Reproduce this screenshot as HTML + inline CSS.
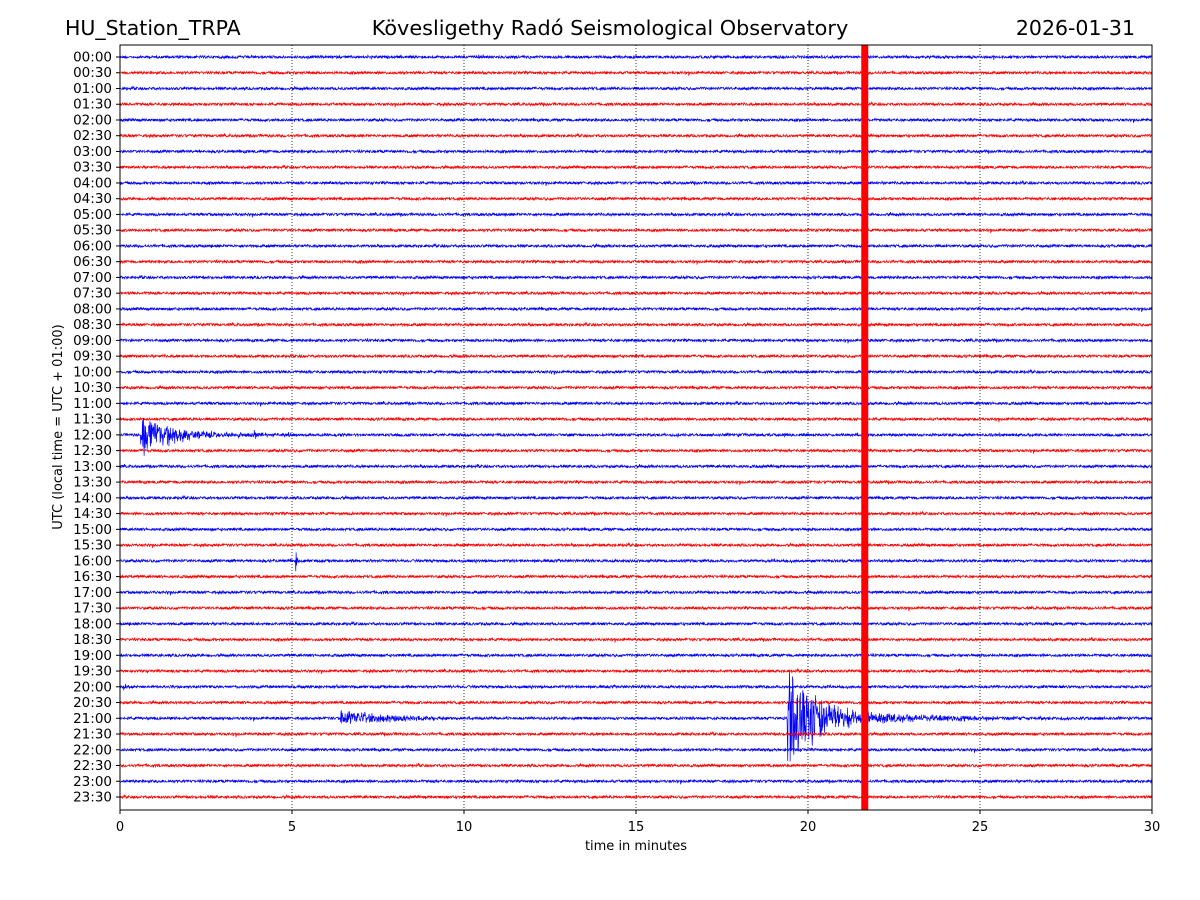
<!DOCTYPE html>
<html><head><meta charset="utf-8">
<style>
body{margin:0;background:#fff;}
svg{display:block;font-family:"DejaVu Sans","Liberation Sans",sans-serif;}
</style></head>
<body>
<svg id="chart" width="1200" height="900" xmlns="http://www.w3.org/2000/svg">
<text x="65" y="35" font-size="20.5">HU_Station_TRPA</text>
<text x="610" y="35" font-size="20.8" text-anchor="middle">Kövesligethy Radó Seismological Observatory</text>
<text x="1135" y="35" font-size="20.5" text-anchor="end">2026-01-31</text>
<g id="grid"></g>
<g id="traces"></g>
<g id="axes"></g>
<text x="636" y="850" font-size="13" text-anchor="middle">time in minutes</text>
<text transform="translate(62,427) rotate(-90)" font-size="13" text-anchor="middle">UTC (local time = UTC + 01:00)</text>
</svg>
<script>
// data
const xTicks = [0,5,10,15,20,25,30];
const rowLabels = [];
for (let h=0; h<24; h++){ const hh=String(h).padStart(2,'0'); rowLabels.push(hh+':00', hh+':30'); }
// events: row index, start minute, peak amplitude (px), decay duration (minutes)
const eventRows = [24, 24, 24, 32, 42, 42, 42, 40];
const eventStarts = [0.6, 1.2, 3.9, 5.1, 6.4, 19.4, 20.0, 0.1];
const eventAmps = [26, 7, 4, 14, 8, 52, 10, 3];
const eventDurations = [1.8, 5.0, 0.6, 0.12, 4.5, 2.4, 9.0, 0.5];
const clipMinute = 21.65;

const NS='http://www.w3.org/2000/svg';
const X0=120, X1=1152, Y0=45, Y1=810, R0=57, RS=(797-57)/47;
const xs = m => X0 + (X1-X0)*m/30;
const ys = i => R0 + RS*i;
const grid=document.getElementById('grid'), traces=document.getElementById('traces'), axes=document.getElementById('axes');
function mk(tag, attrs, parent){ const e=document.createElementNS(NS,tag); for(const k in attrs) e.setAttribute(k,attrs[k]); parent.appendChild(e); return e; }

xTicks.forEach(t=>{
  if(t>0&&t<30){ const g=mk('line',{x1:xs(t),x2:xs(t),y1:Y0,y2:Y1,stroke:'#000','stroke-width':0.8,'stroke-dasharray':'1,2'},grid);
    
     }
  const tk=mk('line',{x1:xs(t),x2:xs(t),y1:Y1,y2:Y1+4,stroke:'#000'},axes);
  
  
  const tl=mk('text',{x:xs(t),y:Y1+21,'font-size':13,'text-anchor':'middle'},axes); tl.textContent=t;
  
  
});

// deterministic texture noise
let seed=12345;
function rnd(){ seed=(seed*1103515245+12345)%2147483648; return seed/2147483648; }

rowLabels.forEach((lab,i)=>{
  const y=ys(i);
  const col = i%2===0 ? '#0000ff' : '#ff0000';
  let d='';
  for(let px=X0; px<=X1; px+=0.34){
    const m=(px-X0)/(X1-X0)*30;
    let a=(rnd()-0.5)*2.6 + (rnd()<0.01?(rnd()-0.5)*4:0);
    for(let k=0;k<eventRows.length;k++){
      if(eventRows[k]!==i) continue;
      const dt=m-eventStarts[k];
      if(dt>=0){ const env=eventAmps[k]*Math.exp(-dt/(eventDurations[k]*0.3)); a+= (rnd()-0.5)*2*env; }
    }
    d+=(px===X0?'M':'L')+px.toFixed(2)+','+(y+a).toFixed(1);
  }
  const p=mk('path',{d:d,fill:'none',stroke:col,'stroke-width':0.7},traces);
  
  
  const tk=mk('line',{x1:X0-4,x2:X0,y1:y,y2:y,stroke:'#000'},axes);
  
  
  const tl=mk('text',{x:X0-8,y:y+4.5,'font-size':13.5,'text-anchor':'end'},axes); tl.textContent=lab;
  
  
});
// clipped vertical band
const band=mk('rect',{x:xs(clipMinute)-3.5,y:Y0,width:7,height:Y1-Y0,fill:'#ff0000'},traces);


const frame=mk('rect',{x:X0,y:Y0,width:X1-X0,height:Y1-Y0,fill:'none',stroke:'#000','stroke-width':1},axes);


</script>
</body></html>
